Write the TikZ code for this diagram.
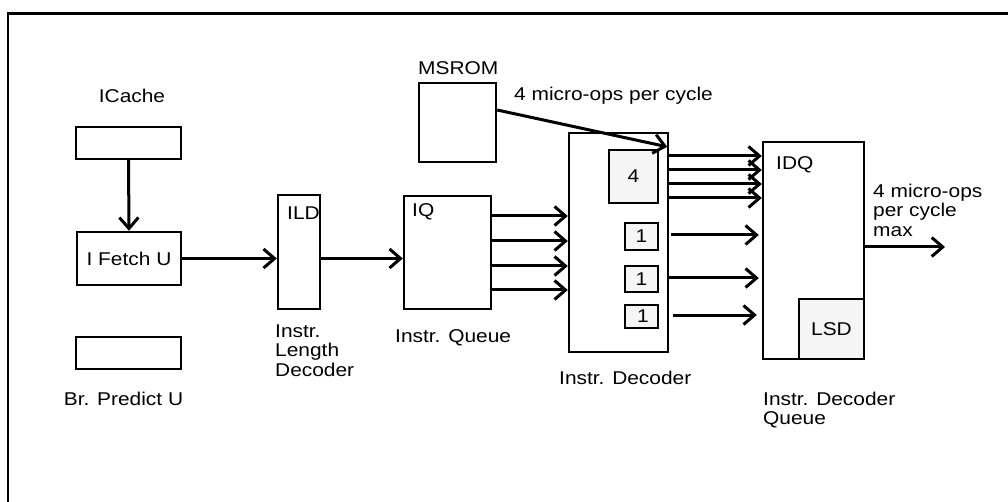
\documentclass[tikz,border=0pt]{standalone}
\usepackage{fontspec}
\setmainfont{Liberation Sans}[FakeStretch=1.13]
\usetikzlibrary{arrows.meta}
\begin{document}
\begin{tikzpicture}[x=1pt,y=-1pt,
  font=\fontsize{18.5}{19.5}\selectfont,
  box/.style={draw, line width=2.4pt, inner sep=0pt},
  graybox/.style={box, fill=gray!8},
  txt/.style={inner sep=0pt},
  arr/.style={line width=3pt, -{Straight Barb[length=11pt,width=19pt]}}]
\useasboundingbox (0,0) rectangle (1008,502);
% frame
\draw[line width=2.4pt] (8,502) -- (8,13.5) -- (1008,13.5);
% boxes
\node[box, minimum width=105, minimum height=32] (icache) at (128.5,143) {};
\node[box, minimum width=104, minimum height=53] (ifetch) at (129,258.5) {I Fetch U};
\node[box, minimum width=105, minimum height=32] (brpred) at (128.5,353) {};
\node[box, minimum width=42, minimum height=114] (ild) at (299,252) {};
\node[box, minimum width=87, minimum height=113] (iq) at (447.5,252.5) {};
\node[box, minimum width=77, minimum height=79] (msrom) at (457.5,122.5) {};
\node[box, minimum width=99, minimum height=219] (dec) at (618.5,242.5) {};
\node[graybox, minimum width=49, minimum height=53] (four) at (633.5,176.5) {4};
\node[graybox, minimum width=33, minimum height=27] (one1) at (641.5,236.5) {1};
\node[graybox, minimum width=33, minimum height=26] (one2) at (641.5,279) {1};
\node[graybox, minimum width=33, minimum height=23] (one3) at (641.5,316.5) {\hspace{3pt}1};
\node[box, minimum width=101, minimum height=217] (idq) at (813.5,250.5) {};
\node[graybox, minimum width=65, minimum height=60] (lsd) at (831.5,329) {\raisebox{-3pt}{LSD}};
% labels
\node[txt, anchor=base] (licache) at (132,103) {ICache};
\node[txt, anchor=base] (lbr) at (123.5,405) {Br. Predict U};
\node[txt, anchor=base west] (lild) at (287,220) {ILD};
\node[txt, anchor=north west, align=left] (lildd) at (275,324.5) {Instr.\\Length\\Decoder};
\node[txt, anchor=base west] (liq) at (412,217) {IQ};
\node[txt, anchor=base west] (liqd) at (395,342) {Instr. Queue};
\node[txt, anchor=base west] (lms) at (418,75) {MSROM};
\node[txt, anchor=base west] (lmsr) at (514,101) {4 micro-ops per cycle};
\node[txt, anchor=base west] (ldec) at (559,384) {Instr. Decoder};
\node[txt, anchor=base west] (lidq) at (776,170) {IDQ};
\node[txt, anchor=north west, align=left] (lout) at (873,183.5) {4 micro-ops\\per cycle\\max};
\node[txt, anchor=north west, align=left] (lidqd) at (763,391.5) {Instr. Decoder\\Queue};
% level coordinates
\coordinate (ya) at (0,216);
\coordinate (yb) at (0,241);
\coordinate (yc) at (0,266);
\coordinate (yd) at (0,290);
\coordinate (ye) at (0,156);
\coordinate (yf) at (0,170);
\coordinate (yg) at (0,184);
\coordinate (yh) at (0,198);
\coordinate (yi) at (0,235);
\coordinate (yj) at (0,278);
\coordinate (yk) at (0,315);
\coordinate (oend) at (945,247);
% connectors
\draw[arr] (icache.south) -- (ifetch.north);
\draw[arr] (ifetch.east) -- (ifetch.east -| ild.west);
\draw[arr] (ild.east |- ifetch.east) -- (iq.west |- ifetch.east);
\foreach \l in {ya,yb,yc,yd}{
  \draw[arr] (iq.east |- \l) -- (dec.west |- \l);
}
\draw[arr] ([yshift=12.5pt]msrom.east) -- ([yshift=-15pt,xshift=-2pt]dec.north east);
\foreach \l in {ye,yf,yg,yh}{
  \draw[arr] (dec.east |- \l) -- (idq.west |- \l);
}
\draw[arr] ([xshift=2pt]dec.east |- yi) -- ([xshift=-3pt]idq.west |- yi);
\draw[arr] (dec.east |- yj) -- ([xshift=-3pt]idq.west |- yj);
\draw[arr] ([xshift=4pt]dec.east |- yk) -- ([xshift=-5pt]idq.west |- yk);
\draw[arr] (idq.east |- oend) -- (oend);
\end{tikzpicture}
\end{document}
